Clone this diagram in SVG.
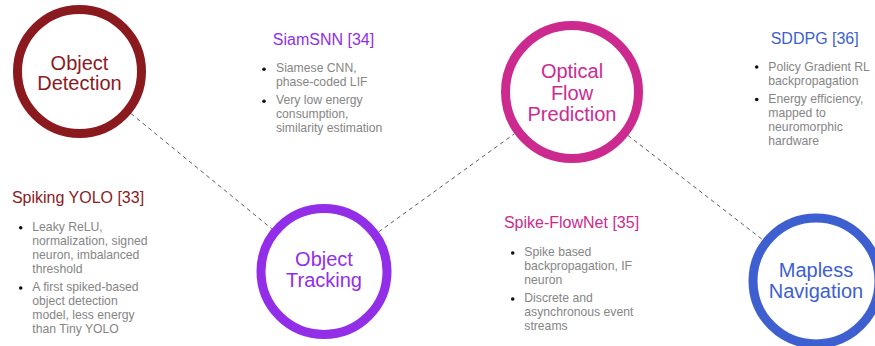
<svg xmlns="http://www.w3.org/2000/svg" width="875" height="346" viewBox="0 0 875 346">
<style>
.ring{fill:#fff;stroke-width:9}
.nt{font-family:"Liberation Sans",Arial,sans-serif;font-size:20px;text-anchor:middle}
.tt{font-family:"Liberation Sans",Arial,sans-serif;font-size:16px;text-anchor:middle}
.bt{font-family:"Liberation Sans",Arial,sans-serif;font-size:12.2px;fill:#858585}
.dot{fill:#111}
.conn{stroke:#4a4a4a;stroke-width:0.9;stroke-dasharray:4 3.5;fill:none}
.red{fill:#8B1A1F}.pur{fill:#922EE8}.mag{fill:#CD2A8F}.blu{fill:#3E5FCF}
</style>
<rect width="875" height="346" fill="#fff"/>
<g id="connectors">
<line class="conn" x1="131" y1="113.6" x2="271.8" y2="228.8"/>
<line class="conn" x1="378.7" y1="231.9" x2="514.5" y2="133.7"/>
<line class="conn" x1="628" y1="135.5" x2="763" y2="240"/>
</g>
<g id="object-detection">
<circle class="ring" cx="79.5" cy="71.5" r="62" stroke="#8B1A1F"/>
<text class="nt red" x="79.5" y="70">Object</text>
<text class="nt red" x="79.5" y="90">Detection</text>
</g>
<g id="object-tracking">
<circle class="ring" cx="324" cy="271.5" r="63" stroke="#922EE8"/>
<text class="nt pur" x="324" y="266">Object</text>
<text class="nt pur" x="324" y="287">Tracking</text>
</g>
<g id="optical-flow">
<circle class="ring" cx="572" cy="92" r="66.5" stroke="#CD2A8F"/>
<text class="nt mag" x="572" y="78">Optical</text>
<text class="nt mag" x="572" y="100">Flow</text>
<text class="nt mag" x="572" y="121">Prediction</text>
</g>
<g id="mapless-navigation">
<circle class="ring" cx="816" cy="281" r="63" stroke="#3E5FCF"/>
<text class="nt blu" x="816" y="277">Mapless</text>
<text class="nt blu" x="816" y="297.5">Navigation</text>
</g>
<g id="spiking-yolo">
<text class="tt red" x="78" y="202.7">Spiking YOLO [33]</text>
<circle class="dot" cx="20.7" cy="227.7" r="1.8"/>
<text class="bt" x="32.3" y="230.7">Leaky ReLU,</text>
<text class="bt" x="32.3" y="244.7">normalization, signed</text>
<text class="bt" x="32.3" y="258.7">neuron, imbalanced</text>
<text class="bt" x="32.3" y="272.7">threshold</text>
<circle class="dot" cx="20.7" cy="288" r="1.8"/>
<text class="bt" x="32.3" y="291">A first spiked-based</text>
<text class="bt" x="32.3" y="305">object detection</text>
<text class="bt" x="32.3" y="319">model, less energy</text>
<text class="bt" x="32.3" y="333">than Tiny YOLO</text>
</g>
<g id="siamsnn">
<text class="tt pur" x="323.5" y="45">SiamSNN [34]</text>
<circle class="dot" cx="264" cy="69.3" r="1.8"/>
<text class="bt" x="276" y="72.3">Siamese CNN,</text>
<text class="bt" x="276" y="86.3">phase-coded LIF</text>
<circle class="dot" cx="264" cy="101.3" r="1.8"/>
<text class="bt" x="276" y="104.3">Very low energy</text>
<text class="bt" x="276" y="118.3">consumption,</text>
<text class="bt" x="276" y="132.3">similarity estimation</text>
</g>
<g id="spike-flownet">
<text class="tt mag" x="571.5" y="227.7">Spike-FlowNet [35]</text>
<circle class="dot" cx="512.7" cy="253" r="1.8"/>
<text class="bt" x="524.3" y="256">Spike based</text>
<text class="bt" x="524.3" y="270">backpropagation, IF</text>
<text class="bt" x="524.3" y="284">neuron</text>
<circle class="dot" cx="512.7" cy="299" r="1.8"/>
<text class="bt" x="524.3" y="302">Discrete and</text>
<text class="bt" x="524.3" y="316">asynchronous event</text>
<text class="bt" x="524.3" y="330">streams</text>
</g>
<g id="sddpg">
<text class="tt blu" x="814.7" y="44.3">SDDPG [36]</text>
<circle class="dot" cx="756.7" cy="67" r="1.8"/>
<text class="bt" x="768.3" y="70.5">Policy Gradient RL</text>
<text class="bt" x="768.3" y="84.5">backpropagation</text>
<circle class="dot" cx="756.7" cy="99.5" r="1.8"/>
<text class="bt" x="768.3" y="102.5">Energy efficiency,</text>
<text class="bt" x="768.3" y="116.5">mapped to</text>
<text class="bt" x="768.3" y="130.5">neuromorphic</text>
<text class="bt" x="768.3" y="144.5">hardware</text>
</g>
</svg>
